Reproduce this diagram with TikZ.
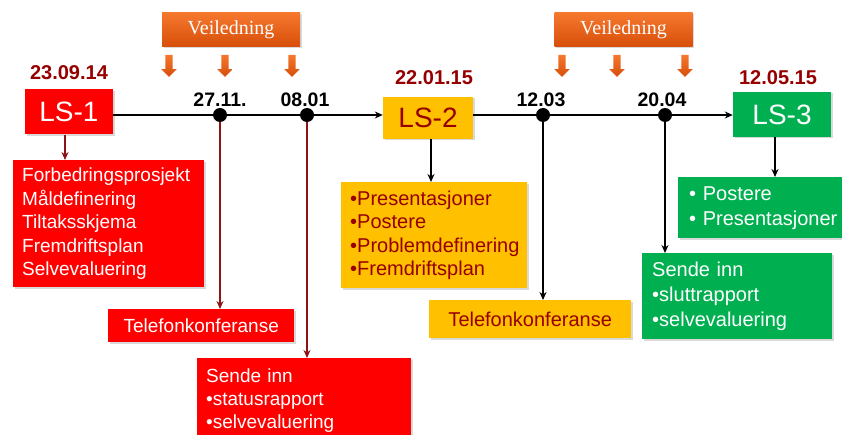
\documentclass[tikz,border=0pt]{standalone}
\usepackage{fontspec}
\setmainfont{Liberation Sans}
\newfontfamily\veilfont{Liberation Serif}
\usetikzlibrary{arrows.meta, positioning, shapes, shadows}
\definecolor{BoxRed}{RGB}{255, 0, 0}
\definecolor{BoxYellow}{RGB}{255, 192, 0}
\definecolor{BoxGreen}{RGB}{0, 176, 80}
\definecolor{DarkRed}{RGB}{150, 0, 0}
\definecolor{LineRed}{RGB}{140, 20, 20}
\definecolor{VeilTop}{RGB}{245, 120, 45}
\definecolor{VeilBot}{RGB}{215, 78, 10}

\begin{document}
\begin{tikzpicture}[
        x=1pt, y=-1pt,
        boxshadow/.style={drop shadow={shadow xshift=1.5pt, shadow yshift=-1.5pt, opacity=0.3}},
        milestone/.style={rectangle, boxshadow, minimum height=45pt, inner sep=0pt, font=\fontsize{28}{30}\selectfont},
        datelabel/.style={inner sep=0pt, text=DarkRed, font=\bfseries\fontsize{20}{22}\selectfont},
        tick/.style={inner sep=0pt, font=\bfseries\fontsize{19.5}{22}\selectfont},
        dot/.style={circle, fill=black, minimum size=14pt, inner sep=0pt},
        infobox/.style={rectangle, boxshadow, anchor=north west, align=left, inner xsep=9pt, inner ysep=0pt},
        veil/.style={rectangle, boxshadow, top color=VeilTop, bottom color=VeilBot, minimum width=138pt, minimum height=34pt, text=white, font=\veilfont\fontsize{20}{22}\selectfont},
        pointer/.style={single arrow, shape border rotate=270, top color=VeilTop, bottom color=VeilBot, minimum height=22pt, single arrow head extend=4pt, inner sep=3.5pt},
        arrow/.style={line width=1.5pt, ->, >={Stealth[length=8pt, width=7pt]}},
        redarrow/.style={arrow, draw=LineRed},
    ]
    \useasboundingbox (0,0) rectangle (842,435);

    % milestones
    \node[milestone, fill=BoxRed, text=white, minimum width=88pt] (ls1) at (69,112) {LS-1};
    \node[milestone, fill=BoxYellow, text=DarkRed, minimum width=90pt, minimum height=42pt] (ls2) at (428,118) {LS-2};
    \node[milestone, fill=BoxGreen, text=white, minimum width=98pt] (ls3) at (782,114.5) {LS-3};

    \node[datelabel, above=9pt of ls1] (date1) {23.09.14};
    \node[datelabel, above=12pt of ls2, xshift=6pt] (date2) {22.01.15};
    \node[datelabel, above=7pt of ls3, xshift=-4pt] (date3) {12.05.15};

    % veiledning
    \node[veil] (veil1) at (231,30) {Veiledning};
    \node[veil] (veil2) at (623.5,30) {Veiledning};
    \node[pointer] (p1) at (169,64) {};
    \node[pointer] (p2) at (225,64) {};
    \node[pointer] (p3) at (292,64) {};
    \node[pointer] (p4) at (562,64) {};
    \node[pointer] (p5) at (617,64) {};
    \node[pointer] (p6) at (685,64) {};

    % timeline
    \node[dot] (d1) at (220,115) {};
    \node[dot] (d2) at (307,115) {};
    \node[dot] (d3) at (543,115) {};
    \node[dot] (d4) at (665,115) {};
    \node[tick, above=1pt of d1] (t1) {27.11.};
    \node[tick, above=1pt of d2, xshift=-2pt] (t2) {08.01};
    \node[tick, above=1pt of d3, xshift=-2pt] (t3) {12.03};
    \node[tick, above=1pt of d4, xshift=-3pt] (t4) {20.04};
    \draw[arrow] (ls1.east |- d1) -- (ls2.west |- d1);
    \draw[arrow] (ls2.east |- d1) -- (ls3.west |- d1);

    % boxes below
    \node[infobox, fill=BoxRed, text=white, text width=173pt, minimum height=127pt, font=\fontsize{19}{23.5}\selectfont] (tasks1) at (13,160)
        {Forbedringsprosjekt\\Måldefinering\\Tiltaksskjema\\Fremdriftsplan\\Selvevaluering};
    \node[infobox, fill=BoxRed, text=white, align=center, text width=168pt, minimum height=33pt, font=\fontsize{19}{23.5}\selectfont] (tel1) at (108,309)
        {Telefonkonferanse};
    \node[infobox, fill=BoxRed, text=white, text width=196pt, minimum height=85pt, font=\fontsize{19}{23.2}\selectfont] (send1) at (197,358)
        {Sende inn\\•statusrapport\\•selvevaluering};
    \node[infobox, fill=BoxYellow, text=DarkRed, text width=168pt, minimum height=106pt, font=\fontsize{20}{23.5}\selectfont] (tasks2) at (341,182)
        {•Presentasjoner\\•Postere\\•Problemdefinering\\•Fremdriftsplan};
    \node[infobox, fill=BoxYellow, text=DarkRed, align=center, text width=184pt, minimum height=38pt, font=\fontsize{20}{23.5}\selectfont] (tel2) at (429,300)
        {Telefonkonferanse};
    \node[infobox, fill=BoxGreen, text=white, inner xsep=11pt, text width=150pt, minimum height=61pt, font=\fontsize{20}{25}\selectfont] (tasks3) at (678,177)
        {• Postere\\• Presentasjoner};
    \node[infobox, fill=BoxGreen, text=white, inner xsep=10pt, text width=170pt, minimum height=86pt, font=\fontsize{20}{25}\selectfont] (send3) at (642,253)
        {Sende inn\\•sluttrapport\\•selvevaluering};

    % connectors
    \coordinate (foot1) at ([xshift=-4pt]ls1.south);
    \coordinate (foot2) at ([xshift=3pt]ls2.south);
    \coordinate (foot3) at ([xshift=-7pt]ls3.south);
    \draw[redarrow] (foot1) -- (foot1 |- tasks1.north);
    \draw[arrow] (foot2) -- (foot2 |- tasks2.north);
    \draw[arrow] (foot3) -- (foot3 |- tasks3.north);
    \draw[redarrow] (d1) -- (d1 |- tel1.north);
    \draw[redarrow] (d2) -- (d2 |- send1.north);
    \draw[arrow] (d3) -- (d3 |- tel2.north);
    \draw[arrow] (d4) -- (d4 |- send3.north);
\end{tikzpicture}
\end{document}
